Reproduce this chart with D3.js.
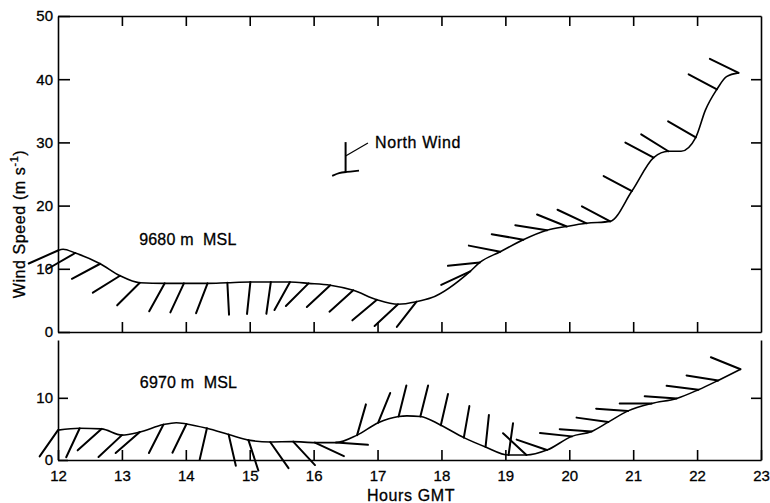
<!DOCTYPE html>
<html>
<head>
<meta charset="utf-8">
<script src="https://cdn.jsdelivr.net/npm/d3@7"></script>
<style>
  body { margin: 0; background: #fff; }
  svg { display: block; }
  text { font-family: "Liberation Sans", Arial, Helvetica, sans-serif; fill: #000; stroke: #000; stroke-width: 0.3; }
  .axis path, .axis line { stroke: #000; stroke-width: 1.6; }
  .axis text { font-size: 15px; }
  .label { font-size: 16px; letter-spacing: 0.6px; }
</style>
</head>
<body>
<svg id="chart" width="770" height="503"></svg>
<script>
// hours GMT of each point, wind speed (m/s), wind direction (deg, null = curve point only)
const topTime  = [12.00, 12.08, 12.27, 12.66, 12.97, 13.28, 13.67, 13.97, 14.34, 14.65, 15.01, 15.33, 15.63, 15.92, 16.26, 16.62, 16.99, 17.32, 17.61, 17.84, 18.45, 18.60, 18.92, 19.28, 19.65, 19.96, 20.27, 20.64, 20.98, 21.32, 21.55, 21.75, 21.98, 22.13, 22.31, 22.46, 22.65];
const topSpeed = [12.9, 13.1, 12.5, 10.8, 8.9, 7.8, 7.7, 7.7, 7.7, 7.8, 7.9, 7.9, 7.9, 7.7, 7.4, 6.6, 5.1, 4.4, 4.8, 5.4, 9.6, 11.0, 12.7, 14.6, 16.1, 16.7, 17.2, 17.5, 22.3, 27.6, 28.6, 28.6, 30.8, 35.1, 38.4, 40.4, 41.0];
const topDir   = [246, null, 240, 242, 238, 225, 209, 205, 201, 177, 186, 188, 209, 225, 227, 228, 230, 227, 218, null, 245, 264, 281, 280, 279, 292, 295, 298, 298, 298, 302, null, 300, null, 298, null, 296];

const botTime  = [12.00, 12.34, 12.68, 13.00, 13.28, 13.65, 13.85, 14.01, 14.33, 14.67, 14.98, 15.32, 15.68, 16.02, 16.35, 16.68, 17.01, 17.33, 17.46, 17.67, 17.99, 18.35, 18.69, 19.05, 19.33, 19.65, 20.04, 20.35, 20.61, 20.92, 21.29, 21.68, 22.02, 22.33, 22.68];
const botSpeed = [4.8, 5.1, 5.0, 4.0, 4.5, 5.7, 6.0, 5.8, 5.1, 4.1, 3.2, 2.9, 2.95, 2.8, 2.8, 4.0, 6.0, 7.0, 7.1, 7.0, 5.6, 3.6, 2.1, 0.8, 0.8, 1.6, 3.8, 4.6, 6.1, 7.9, 9.1, 9.9, 11.3, 12.8, 14.6];
const botDir   = [215, 205, 228, 227, 229, 207, null, 206, 193, 167, 162, 145, 137, 115, 94, 16, 22, 14, null, 14, 13, 10, 6, 8, 313, 289, 276, 274, 278, 274, 270, 274, 277, 279, 292];

const hourTicks = [12, 13, 14, 15, 16, 17, 18, 19, 20, 21, 22, 23];
const topSpeedTicks = [0, 10, 20, 30, 40, 50];
const botSpeedTicks = [0, 10];

// legend glyph: a north wind barb on a short bit of curve
const legendTime  = [16.29, 16.40, 16.50, 16.71];
const legendSpeed = [24.7, 25.2, 25.3, 25.55];
const legendDir = 0;

const svg = d3.select("#chart");
const barbLen = 32;

const x = d3.scaleLinear().domain([12, 23]).range([58, 761]);
const yTop = d3.scaleLinear().domain([0, 50]).range([332, 16]);
const yBot = d3.scaleLinear().domain([0, 19.3]).range([460, 340]);

const inner = hourTicks.filter(h => h > 12 && h < 23);

// top panel frame
svg.append("g").attr("class", "axis")
    .attr("transform", "translate(0,16)")
    .call(d3.axisBottom(x).tickValues(inner).tickSize(10).tickSizeOuter(0).tickFormat(""));
svg.append("g").attr("class", "axis")
    .attr("transform", "translate(0,332)")
    .call(d3.axisTop(x).tickValues(inner).tickSize(10).tickSizeOuter(0).tickFormat(""));
svg.append("g").attr("class", "axis")
    .attr("transform", "translate(58,0)")
    .call(d3.axisLeft(yTop).tickValues(topSpeedTicks).tickSize(-12).tickSizeOuter(0).tickPadding(5));
svg.append("g").attr("class", "axis")
    .attr("transform", "translate(761,0)")
    .call(d3.axisLeft(yTop).tickValues([10, 20, 30, 40]).tickSize(10).tickSizeOuter(0).tickFormat(""));

// bottom panel frame (open at the top)
svg.append("g").attr("class", "axis")
    .attr("transform", "translate(0,460)")
    .call(d3.axisBottom(x).tickValues(hourTicks).tickSize(-10).tickSizeOuter(0).tickPadding(10));
svg.append("g").attr("class", "axis")
    .attr("transform", "translate(58,0)")
    .call(d3.axisLeft(yBot).tickValues(botSpeedTicks).tickSize(-10).tickSizeOuter(0).tickPadding(5));
svg.append("g").attr("class", "axis")
    .attr("transform", "translate(761,0)")
    .call(d3.axisLeft(yBot).tickValues([10]).tickSize(10).tickSizeOuter(0).tickFormat(""));

function drawSeries(times, speeds, dirs, y) {
    const pts = times.map((t, i) => ({ t: t, v: speeds[i], d: dirs[i] }));

    const line = d3.line()
        .x(d => x(d.t))
        .y(d => y(d.v))
        .curve(d3.curveMonotoneX);

    svg.append("path")
        .datum(pts)
        .attr("d", line)
        .attr("fill", "none")
        .attr("stroke", "#000")
        .attr("stroke-width", 1.6);

    const rad = Math.PI / 180;
    svg.append("g")
        .selectAll("line")
        .data(pts.filter(d => d.d !== null))
        .enter().append("line")
        .attr("x1", d => x(d.t))
        .attr("y1", d => y(d.v))
        .attr("x2", d => x(d.t) + barbLen * Math.sin(d.d * rad))
        .attr("y2", d => y(d.v) - barbLen * Math.cos(d.d * rad))
        .attr("stroke", "#000")
        .attr("stroke-width", 2)
        .attr("stroke-linecap", "round");
}

drawSeries(topTime, topSpeed, topDir, yTop);
drawSeries(botTime, botSpeed, botDir, yBot);

// legend
const legPts = legendTime.map((t, i) => ({ t: t, v: legendSpeed[i] }));
svg.append("path")
    .datum(legPts)
    .attr("d", d3.line().x(d => x(d.t)).y(d => yTop(d.v)).curve(d3.curveBasis))
    .attr("fill", "none")
    .attr("stroke", "#000")
    .attr("stroke-width", 1.8);

const lx = x(legendTime[2]), ly = yTop(legendSpeed[2]);
svg.append("line")
    .attr("x1", lx).attr("y1", ly)
    .attr("x2", lx + (barbLen - 2) * Math.sin(legendDir)).attr("y2", ly - (barbLen - 2) * Math.cos(legendDir))
    .attr("stroke", "#000").attr("stroke-width", 2);
svg.append("line")
    .attr("x1", lx).attr("y1", ly - 16)
    .attr("x2", x(16.85)).attr("y2", yTop(29.9))
    .attr("stroke", "#000").attr("stroke-width", 1.2);
svg.append("text")
    .attr("class", "label")
    .attr("x", x(16.96)).attr("y", yTop(29.1))
    .text("North Wind");

// panel labels
svg.append("text")
    .attr("class", "label")
    .attr("x", x(13.27)).attr("y", yTop(13.8))
    .style("white-space", "pre")
    .style("letter-spacing", "0.2px")
    .text("9680 m  MSL");
svg.append("text")
    .attr("class", "label")
    .attr("x", x(13.28)).attr("y", yBot(11.5))
    .style("white-space", "pre")
    .style("letter-spacing", "0.2px")
    .text("6970 m  MSL");

// axis titles
svg.append("text")
    .attr("class", "label")
    .attr("x", 411).attr("y", 501)
    .attr("text-anchor", "middle")
    .text("Hours GMT");

const yl = svg.append("text")
    .attr("class", "label")
    .attr("transform", "translate(25,224) rotate(-90)")
    .attr("text-anchor", "middle");
yl.append("tspan").text("Wind Speed (m s");
yl.append("tspan").attr("dy", -7).attr("font-size", 11).text("-1");
yl.append("tspan").attr("dy", 7).text(")");
</script>
</body>
</html>
